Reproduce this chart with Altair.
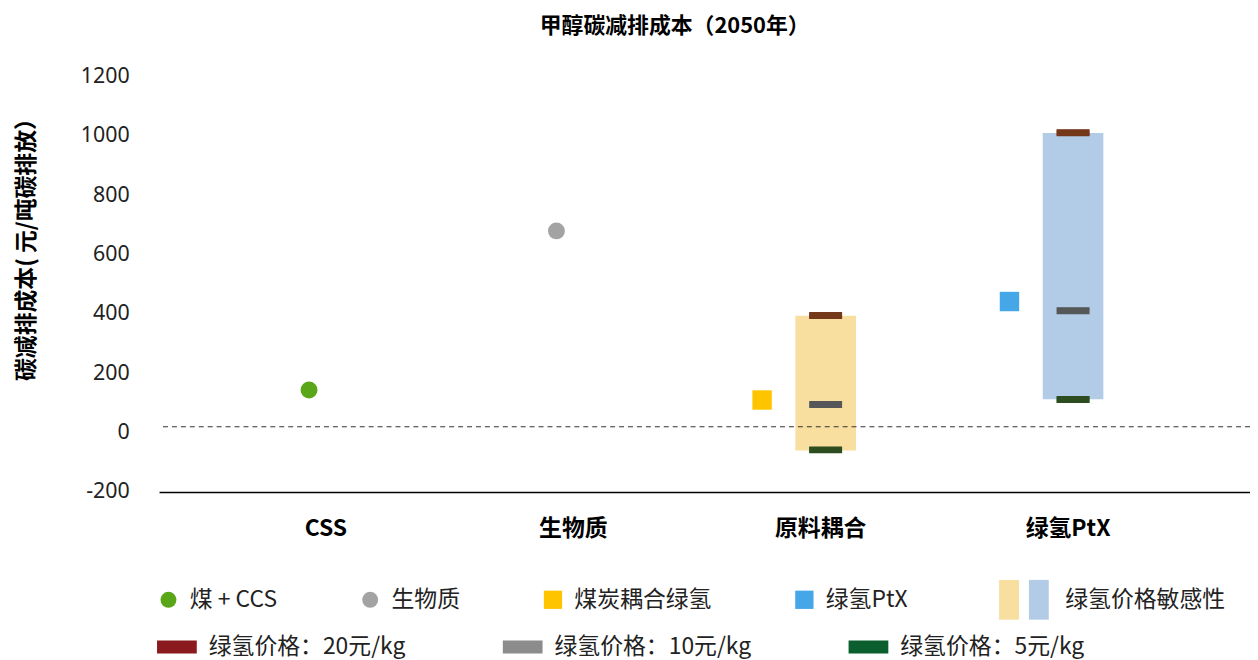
import altair as alt
import pandas as pd

FONT = "Noto Sans CJK SC"

# ---------------- data ----------------
categories = ["CSS", "生物质", "原料耦合", "绿氢PtX"]

circle_series = ["煤 + CCS", "生物质"]
circle_category = ["CSS", "生物质"]
circle_values = [144, 680]

square_series = ["煤炭耦合绿氢", "绿氢PtX"]
square_category = ["原料耦合", "绿氢PtX"]
square_values = [110, 442]

legend_series = ["煤 + CCS", "生物质", "煤炭耦合绿氢", "绿氢PtX"]
legend_colors = ["#5AA619", "#A3A3A3", "#FFC400", "#45A6E8"]

range_category = ["原料耦合", "绿氢PtX"]
range_low = [-60, 113]
range_high = [394, 1010]
range_colors = ["#F8DE9F", "#B2CCE8"]

price_levels = ["绿氢价格：20元/kg", "绿氢价格：10元/kg", "绿氢价格：5元/kg"]
price_coupling = [395, 95, -58]
price_ptx = [1011, 411, 112]
price_legend_colors = ["#8B1A1E", "#8C8C8C", "#0B5E2E"]
price_mark_colors = ["#74381A", "#555759", "#2D4C20"]

baseline_value = [20]
y_ticks = [-200, 0, 200, 400, 600, 800, 1000, 1200]

# ---------------- tables ----------------
circles = pd.DataFrame({"category": circle_category, "series": circle_series, "value": circle_values})
squares = pd.DataFrame({"category": square_category, "series": square_series, "value": square_values})
ranges = pd.DataFrame({"category": range_category, "low": range_low, "high": range_high})
prices = pd.DataFrame({
    "category": ["原料耦合"] * 3 + ["绿氢PtX"] * 3,
    "level": price_levels * 2,
    "value": price_coupling + price_ptx,
})
baseline = pd.DataFrame({"value": baseline_value})

# ---------------- shared encodings ----------------
x_enc = alt.X(
    "category:N",
    sort=categories,
    scale=alt.Scale(domain=categories, paddingInner=0, paddingOuter=0.205, align=0.426),
    axis=alt.Axis(
        title=None, labelAngle=0, labelFont=FONT, labelFontSize=23, labelFontWeight="bold",
        labelColor="#000000", labelPadding=26, ticks=False, tickSize=0, grid=False,
        domain=True, domainColor="#000000", domainWidth=1.6,
    ),
)
y_scale = alt.Scale(domain=[-200, 1200], nice=False, zero=False)
y_axis = alt.Axis(
    values=y_ticks, labelExpr="'' + datum.value",
    title="碳减排成本( 元/吨碳排放）", grid=False, domain=False, ticks=False,
    tickSize=0, labelFont="Noto Sans", labelFontSize=21.5, labelColor="#222222", labelPadding=30,
    titleFont=FONT, titleFontSize=23, titleFontWeight="bold", titleColor="#000000",
    titleAngle=270, titleX=-133, titleY=168, titleAlign="center", titleBaseline="middle",
)

def y_of(field):
    return alt.Y(f"{field}:Q", scale=y_scale, axis=y_axis)

legend_common = dict(
    title=None, orient="none", direction="horizontal", symbolStrokeWidth=0,
    labelFont=FONT, labelFontSize=23, labelColor="#222222", labelLimit=600,
    gridAlign="none", padding=0,
)

sq_path = "M-1.15,-1.15H1.15V1.15H-1.15Z"
point_color = alt.Color(
    "series:N",
    scale=alt.Scale(domain=legend_series, range=legend_colors),
    legend=alt.Legend(
        legendX=-2, legendY=515, columns=4, columnPadding=82, labelOffset=10, symbolSize=256,
        **legend_common,
    ),
)
point_shape = alt.Shape(
    "series:N",
    scale=alt.Scale(domain=legend_series, range=["circle", "circle", sq_path, sq_path]),
    legend=None,
)

circle_layer = alt.Chart(circles).mark_point(filled=True, size=289, opacity=1, xOffset=-17).encode(
    x=x_enc, y=y_of("value"), color=point_color, shape=point_shape
)
square_layer = alt.Chart(squares).mark_point(filled=True, size=289, opacity=1, xOffset=-59).encode(
    x=x_enc, y=y_of("value"), color=point_color, shape=point_shape
)
points = alt.layer(circle_layer, square_layer)

range_layer = alt.Chart(ranges).mark_bar(size=61, xOffset=5, opacity=1).encode(
    x=x_enc,
    y=y_of("low"),
    y2="high:Q",
    color=alt.Color(
        "category:N",
        scale=alt.Scale(domain=range_category, range=range_colors),
        legend=alt.Legend(
            legendX=844, legendY=515, columns=2, columnPadding=-8, labelOffset=15,
            symbolType="M-1,-2H1V2H-1Z", symbolSize=400,
            labelExpr="datum.value == '原料耦合' ? '' : '绿氢价格敏感性'",
            **legend_common,
        ),
    ),
)

baseline_layer = alt.Chart(baseline).mark_rule(
    color="#333333", strokeDash=[5, 4], strokeWidth=1.1
).encode(y=alt.Y("value:Q", scale=y_scale, axis=y_axis))

price_legend_layer = alt.Chart(prices).mark_point(
    filled=True, size=1089, opacity=1, xOffset=5, shape="M-1,-0.18H1V0.18H-1Z"
).encode(
    x=x_enc,
    y=y_of("value"),
    color=alt.Color(
        "level:N",
        scale=alt.Scale(domain=price_levels, range=price_legend_colors),
        legend=alt.Legend(
            legendX=-2, legendY=554, columns=3, columnPadding=98, labelOffset=12,
            symbolType="M-1,-0.325H1V0.325H-1Z", symbolSize=1600,
            **legend_common,
        ),
    ),
)

price_layer = alt.Chart(prices).mark_tick(thickness=7, size=33, xOffset=5, opacity=1).encode(
    x=x_enc,
    y=y_of("value"),
    color=alt.Color(
        "level:N",
        scale=alt.Scale(domain=price_levels, range=price_mark_colors),
        legend=None,
    ),
)

chart = (
    alt.layer(range_layer, baseline_layer, points, price_legend_layer, price_layer)
    .resolve_scale(color="independent", shape="independent")
    .properties(
        width=1098,
        height=418,
        background="white",
        autosize=alt.AutoSizeParams(type="none"),
        padding={"left": 152, "top": 67, "right": 0, "bottom": 167},
        title=alt.TitleParams(
            "甲醇碳减排成本（2050年）", font=FONT, fontSize=22, fontWeight="bold",
            color="#000000", anchor="middle", dx=-30, offset=28,
        ),
    )
    .configure_view(stroke="transparent", strokeWidth=0)
)

chart.save("out.html", embed_options={"renderer": "svg", "actions": False})
